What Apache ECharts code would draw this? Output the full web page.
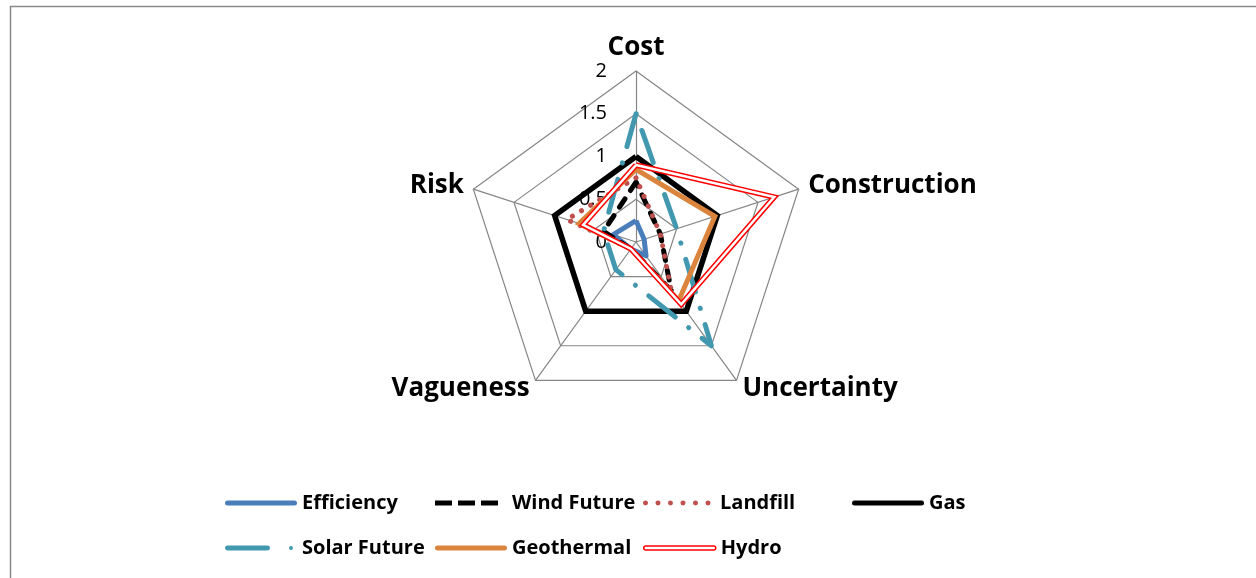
<!DOCTYPE html>
<html>
<head>
<meta charset="utf-8">
<script src="https://cdn.jsdelivr.net/npm/echarts@6/dist/echarts.min.js"></script>
<style>
html,body{margin:0;padding:0;background:#fff;}
#chart{width:1256px;height:578px;}
</style>
</head>
<body>
<div id="chart"></div>
<script>
var indicators = ['Cost', 'Construction', 'Uncertainty', 'Vagueness', 'Risk'];
var axisMax = 2;
var seriesNames = ['Efficiency', 'Wind Future', 'Landfill', 'Gas', 'Solar Future', 'Geothermal', 'Hydro'];
var efficiency  = [0.25, 0.1, 0.2, 0.1, 0.28];
var windFuture  = [0.7, 0.3, 0.7, 0.1, 0.4];
var landfill    = [0.75, 0.3, 0.7, 0.1, 0.85];
var gas         = [1.0, 1.0, 1.0, 1.0, 1.0];
var solarFuture = [1.5, 0.5, 1.5, 0.4, 0.4];
var geothermal  = [0.85, 0.97, 0.85, 0.1, 0.7];
var hydro       = [0.9, 1.7, 0.9, 0.1, 0.65];

// ECharts lays radar indicators out counter-clockwise; the reference runs clockwise.
var order = [0, 4, 3, 2, 1];
function reorder(arr) { return order.map(function (i) { return arr[i]; }); }

var FONT = '"Open Sans", Lato, "Liberation Sans", sans-serif';
var chart = echarts.init(document.getElementById('chart'));

function radarSeries(name, data, lineStyle) {
  return {
    type: 'radar',
    name: name,
    symbol: 'none',
    data: [{ value: reorder(data), name: name }],
    lineStyle: lineStyle,
    itemStyle: { color: lineStyle.color }
  };
}

var legendText = { fontFamily: FONT, fontWeight: 'bold', fontSize: 20, color: '#000' };
function legendAt(name, left, top, icon, w, h, itemStyle) {
  return {
    data: [{ name: name, icon: icon, itemStyle: itemStyle }],
    left: left, top: top,
    padding: 0,
    itemWidth: w, itemHeight: h,
    textStyle: legendText,
    selectedMode: false
  };
}

// an invisible point at x=72 keeps every legend icon 72px wide
var pad = 'M72,2.5h0.01v0.01h-0.01z';
var dots = '';
for (var i = 0; i < 6; i++) {
  var cx = 2.5 + i * 12.5;
  dots += 'M' + (cx - 2.5) + ',2.5a2.5,2.5 0 1,0 5,0a2.5,2.5 0 1,0 -5,0';
}
var bar = 'path://M2.5,0H69.5A2.5,2.5 0 0 1 69.5,5H2.5A2.5,2.5 0 0 1 2.5,0Z';

var option = {
  backgroundColor: '#fff',
  animation: false,
  graphic: [{
    type: 'rect',
    shape: { x: 10.5, y: 6.5, width: 1300, height: 620 },
    style: { fill: 'none', stroke: '#8a8a8a', lineWidth: 1.5 },
    silent: true
  }],
  legend: [
    legendAt('Efficiency', 225, 493, bar, 72, 5, { color: '#4A7EBB' }),
    legendAt('Wind Future', 435, 493, 'path://M0,0h17v5h-17zM23,0h17v5h-17zM46,0h17v5h-17z' + pad, 72, 5, { color: '#000' }),
    legendAt('Landfill', 643, 493, 'path://' + dots + pad, 72, 5, { color: '#C0504D' }),
    legendAt('Gas', 852, 493, bar, 72, 5, { color: '#000' }),
    legendAt('Solar Future', 225, 538, 'path://M2.5,0H42.5A2.5,2.5 0 0 1 42.5,5H2.5A2.5,2.5 0 0 1 2.5,0ZM64,2.5a2,2 0 1,0 4,0a2,2 0 1,0 -4,0' + pad, 72, 5, { color: '#4198AF' }),
    legendAt('Geothermal', 435, 538, bar, 72, 5, { color: '#DB843D' }),
    legendAt('Hydro', 643, 538, 'path://M2,0H70A2,2 0 0 1 70,4H2A2,2 0 0 1 2,0Z', 72, 4, { color: '#fff', borderColor: '#ff0000', borderWidth: 1.5 })
  ],
  radar: {
    center: [636, 242],
    radius: 171,
    startAngle: 90,
    splitNumber: 4,
    shape: 'polygon',
    indicator: reorder(indicators).map(function (n, i) {
      var ind = { name: n, min: 0, max: axisMax };
      if (i === 0) {
        ind.axisLabel = {
          show: true, color: '#000', fontSize: 20, fontFamily: FONT,
          margin: 29, showMinLabel: true, showMaxLabel: true,
          formatter: function (v) { return String(v); }
        };
      }
      return ind;
    }),
    axisName: { color: '#000', fontSize: 26, fontWeight: 'bold', fontFamily: FONT },
    nameGap: 10,
    axisLine: { lineStyle: { color: '#868686', width: 1.2 } },
    splitLine: { lineStyle: { color: '#868686', width: 1.2 } },
    splitArea: { show: false },
    axisTick: { show: false },
    axisLabel: { show: false }
  },
  series: [
    radarSeries('Efficiency', efficiency, { color: '#4A7EBB', width: 5, join: 'round' }),
    radarSeries('Wind Future', windFuture, { color: '#000', width: 5, type: [10, 10], cap: 'round', join: 'round' }),
    radarSeries('Landfill', landfill, { color: '#C0504D', width: 5, type: [0.1, 10.5], cap: 'round', join: 'round' }),
    radarSeries('Gas', gas, { color: '#000', width: 5.5, join: 'miter' }),
    radarSeries('Solar Future', solarFuture, { color: '#4198AF', width: 5, type: [34, 17, 0.1, 17], cap: 'round' }),
    radarSeries('Geothermal', geothermal, { color: '#DB843D', width: 5, join: 'miter' }),
    radarSeries('Hydro', hydro, { color: '#ff0000', width: 5.5, join: 'miter' }),
    {
      type: 'radar', name: 'Hydro', symbol: 'none', silent: true,
      data: [{ value: reorder(hydro), name: 'Hydro' }],
      lineStyle: { color: '#fff', width: 2.5, join: 'miter' },
      itemStyle: { color: '#ff0000' }
    }
  ]
};
chart.setOption(option);
</script>
</body>
</html>
